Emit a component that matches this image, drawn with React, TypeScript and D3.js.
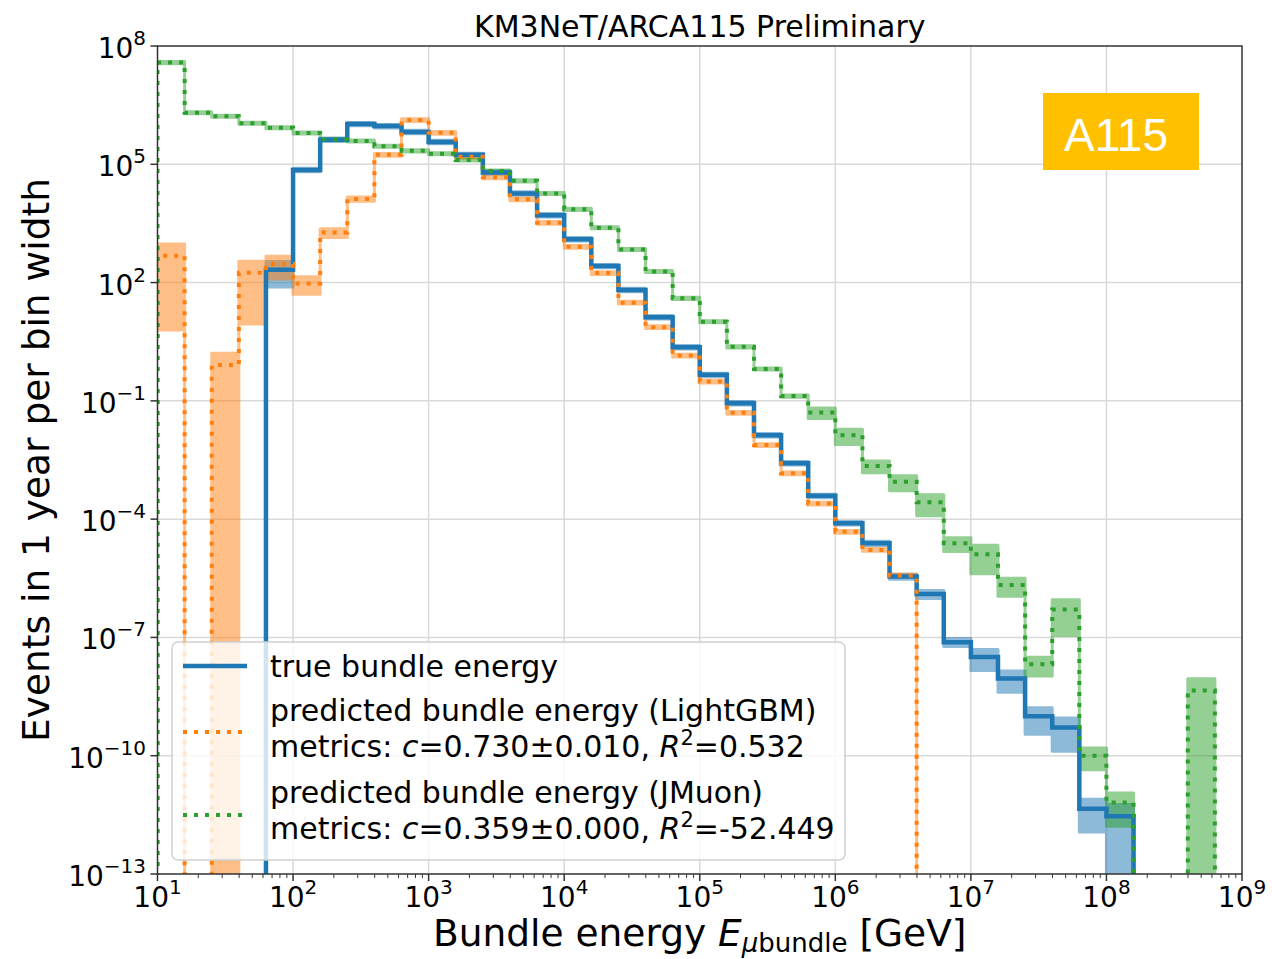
import * as d3 from 'd3'

// log-spaced energy bins, 5 per decade, 10 GeV .. 1e9 GeV
const binEdges = d3.range(41).map(i => Math.pow(10, 1 + i * 0.2))

// events per bin width, true bundle energy
const trueVals = [
  0, 0, 0, 0, 2.1e2, 7.2e4, 4.2e5, 1.05e6, 9.3e5, 6.6e5,
  3.7e5, 1.74e5, 6.2e4, 1.82e4, 5.1e3, 1.26e3, 2.63e2, 65, 13.2, 2.29,
  0.457, 8.7e-2, 1.35e-2, 2.63e-3, 3.9e-4, 7.9e-5, 2.45e-5, 3.5e-6, 1.26e-6, 7.6e-8,
  3.2e-8, 9.1e-9, 1.0e-9, 5.2e-10, 4.5e-12, 2.9e-12, 0, 0, 0, 0,
]
const trueErr = [
  0, 0, 0, 0, 0.63, 0.1, 0.1, 0.1, 0.1, 0.1,
  0.1, 0.1, 0.1, 0.1, 0.1, 0.1, 0.1, 0.1, 0.1, 0.1,
  0.1, 0.1, 0.1, 0.1, 0.1, 0.1, 0.12, 0.15, 0.23, 0.23,
  0.55, 0.55, 0.65, 0.75, 0.74, 1.0, 0, 0, 0, 0,
]

// predicted (LightGBM)
const lgbmVals = [
  4.8e2, 0, 0.81, 1.78e2, 2.95e2, 95, 1.86e3, 1.32e4, 1.74e5, 1.32e6,
  6.3e5, 1.55e5, 4.7e4, 1.29e4, 3.3e3, 8.1e2, 1.74e2, 31, 7.4, 1.41,
  0.31, 5.0e-2, 7.6e-3, 1.45e-3, 2.5e-4, 4.8e-5, 1.66e-5, 3.7e-6, 0, 0,
  0, 0, 0, 0, 0, 0, 0, 0, 0, 0,
]
const lgbmErr = [
  0.987, 0, 1.0, 0.95, 0.58, 0.47, 0.25, 0.12, 0.08, 0.08,
  0.08, 0.08, 0.08, 0.08, 0.08, 0.08, 0.08, 0.08, 0.08, 0.08,
  0.08, 0.08, 0.08, 0.08, 0.08, 0.08, 0.08, 0.08, 0, 0,
  0, 0, 0, 0, 0, 0, 0, 0, 0, 0,
]

// predicted (JMuon)
const jmuonVals = [
  3.8e7, 2.04e6, 1.66e6, 1.1e6, 8.5e5, 6.2e5, 4.27e5, 3.89e5, 2.88e5, 2.19e5,
  1.86e5, 1.29e5, 6.8e4, 3.8e4, 1.82e4, 7.2e3, 2.45e3, 6.9e2, 1.91e2, 39.8,
  10.2, 2.34, 0.646, 0.132, 5.1e-2, 1.35e-2, 2.24e-3, 8.9e-4, 2.69e-4, 2.45e-5,
  1.29e-5, 2.14e-6, 2.09e-8, 5.1e-7, 1.0e-10, 6.5e-12, 0, 0, 4.5e-9, 0,
]
const jmuonErr = [
  0.06, 0.06, 0.06, 0.06, 0.06, 0.06, 0.06, 0.06, 0.06, 0.06,
  0.06, 0.06, 0.06, 0.06, 0.06, 0.06, 0.06, 0.06, 0.06, 0.06,
  0.06, 0.06, 0.06, 0.06, 0.3, 0.42, 0.33, 0.41, 0.55, 0.38,
  0.68, 0.48, 0.5, 0.78, 0.56, 0.75, 0, 0, 1.0, 0,
]

const xTickExps = [1, 2, 3, 4, 5, 6, 7, 8, 9]
const yTickExps = [8, 5, 2, -1, -4, -7, -10, -13]

const series = [
  {name: 'true', vals: trueVals, err: trueErr, color: '#1f77b4', dash: null},
  {name: 'lgbm', vals: lgbmVals, err: lgbmErr, color: '#ff7f0e', dash: '4 7'},
  {name: 'jmuon', vals: jmuonVals, err: jmuonErr, color: '#2ca02c', dash: '4 7'},
]

const font = 'DejaVu Sans'
const minus = (n: number) => (n < 0 ? '\u2212' + Math.abs(n) : String(n))

export default function App() {
  const width = 1272
  const height = 959
  const left = 157.5, right = 1242, top = 46, bottom = 874

  const x = d3.scaleLog().domain([10, 1e9]).range([left, right])
  const y = d3.scaleLog().domain([1e-13, 1e8]).range([bottom, top])
  const off = bottom + 80 // zeros fall below the plot and get clipped
  const yv = (v: number) => (v > 0 ? y(v) : off)

  const idx = d3.range(41)
  const stairs = (vals: number[]) => {
    const pts: [number, number][] = [[x(binEdges[0]), off]]
    idx.forEach(i => {
      const v = vals[Math.min(i, vals.length - 1)]
      pts.push([x(binEdges[i]), yv(v)])
    })
    pts.push([x(binEdges[40]), off])
    return d3.line().curve(d3.curveStepAfter)(pts)
  }
  const band = (vals: number[], err: number[]) => {
    const area = d3.area<number>()
      .curve(d3.curveStepAfter)
      .x(i => x(binEdges[i]))
      .y0(i => { const k = Math.min(i, 39); return yv(vals[k] * (1 - err[k])) })
      .y1(i => { const k = Math.min(i, 39); return yv(vals[k] * (1 + err[k])) })
    return area(idx)
  }

  const minorX: number[] = []
  for (let e = 1; e < 9; e++) for (let m = 2; m <= 9; m++) minorX.push(m * Math.pow(10, e))

  const legendX = 183, legendTextX = 270

  return (
    <svg width={width} height={height} style={{position: 'absolute', left: 0, top: 0, background: 'white'}}
      fontFamily={font}>
      <defs>
        <clipPath id="plot">
          <rect x={left} y={top} width={right - left} height={bottom - top} />
        </clipPath>
      </defs>

      {/* grid */}
      <g stroke="#d9d9d9" strokeWidth={1.5}>
        {xTickExps.slice(1, -1).map(e => (
          <line key={'gx' + e} x1={x(Math.pow(10, e))} x2={x(Math.pow(10, e))} y1={top} y2={bottom} />
        ))}
        {yTickExps.slice(1, -1).map(e => (
          <line key={'gy' + e} x1={left} x2={right} y1={y(Math.pow(10, e))} y2={y(Math.pow(10, e))} />
        ))}
      </g>

      {/* bands then lines */}
      <g clipPath="url(#plot)">
        {series.map(s => (
          <path key={'b' + s.name} d={band(s.vals, s.err) || ''} fill={s.color} stroke={s.color}
            strokeWidth={3} strokeLinejoin="round" opacity={0.5} />
        ))}
        {series.map(s => (
          <path key={'l' + s.name} d={stairs(s.vals) || ''} fill="none" stroke={s.color}
            strokeWidth={s.dash ? 4 : 4.5} strokeDasharray={s.dash || undefined} />
        ))}
      </g>

      {/* frame */}
      <rect x={left} y={top} width={right - left} height={bottom - top} fill="none" stroke="#333" strokeWidth={1.5} />

      {/* ticks */}
      <g stroke="#333">
        {xTickExps.map(e => (
          <line key={'tx' + e} x1={x(Math.pow(10, e))} x2={x(Math.pow(10, e))} y1={bottom} y2={bottom + 7} strokeWidth={1.5} />
        ))}
        {minorX.map(v => (
          <line key={'mx' + v} x1={x(v)} x2={x(v)} y1={bottom} y2={bottom + 4} strokeWidth={1} />
        ))}
        {yTickExps.map(e => (
          <line key={'ty' + e} x1={left - 7} x2={left} y1={y(Math.pow(10, e))} y2={y(Math.pow(10, e))} strokeWidth={1.5} />
        ))}
      </g>

      {xTickExps.map(e => (
        <text key={'lx' + e} x={x(Math.pow(10, e))} y={907} textAnchor="middle" fontSize={28} fill="#000">
          <tspan>10</tspan>
          <tspan dy={-13} fontSize={20}>{minus(e)}</tspan>
        </text>
      ))}
      {yTickExps.map(e => (
        <text key={'ly' + e} x={146} y={y(Math.pow(10, e)) + 12} textAnchor="end" fontSize={28} fill="#000">
          <tspan>10</tspan>
          <tspan dy={-13} fontSize={20}>{minus(e)}</tspan>
        </text>
      ))}

      {/* axis labels */}
      <text x={(left + right) / 2} y={946} textAnchor="middle" fontSize={37.5}>
        <tspan>Bundle energy </tspan>
        <tspan fontStyle="italic">E</tspan>
        <tspan dy={6} fontSize={26} fontStyle="italic">μ</tspan>
        <tspan fontSize={26}>bundle</tspan>
        <tspan dy={-6}> [GeV]</tspan>
      </text>
      <text transform={`translate(49, ${(top + bottom) / 2}) rotate(-90)`} textAnchor="middle" fontSize={37.5}>
        Events in 1 year per bin width
      </text>

      {/* title */}
      <text x={(left + right) / 2} y={37} textAnchor="middle" fontSize={30}>KM3NeT/ARCA115 Preliminary</text>

      {/* A115 badge */}
      <rect x={1043} y={93} width={156} height={77} fill="#ffc000" />
      <text x={1116} y={151} textAnchor="middle" fontSize={46} fill="white" fontFamily="Liberation Sans, Arial">A115</text>

      {/* legend */}
      <g>
        <rect x={172} y={642} width={673} height={218} rx={6} fill="white" fillOpacity={0.8} stroke="#d0d0d0" strokeWidth={1.5} />
        <line x1={legendX} x2={legendX + 64} y1={666} y2={666} stroke="#1f77b4" strokeWidth={4.5} />
        <line x1={legendX} x2={legendX + 64} y1={732} y2={732} stroke="#ff7f0e" strokeWidth={4} strokeDasharray="4 7" />
        <line x1={legendX} x2={legendX + 64} y1={815} y2={815} stroke="#2ca02c" strokeWidth={4} strokeDasharray="4 7" />
        <g fontSize={30} fill="#000">
          <text x={legendTextX} y={677}>true bundle energy</text>
          <text x={legendTextX} y={721}>predicted bundle energy (LightGBM)</text>
          <text x={legendTextX} y={757}>
            <tspan>metrics: </tspan><tspan fontStyle="italic">c</tspan><tspan>=0.730±0.010, </tspan>
            <tspan fontStyle="italic">R</tspan><tspan dy={-12} fontSize={21}>2</tspan><tspan dy={12}>=0.532</tspan>
          </text>
          <text x={legendTextX} y={803}>predicted bundle energy (JMuon)</text>
          <text x={legendTextX} y={839}>
            <tspan>metrics: </tspan><tspan fontStyle="italic">c</tspan><tspan>=0.359±0.000, </tspan>
            <tspan fontStyle="italic">R</tspan><tspan dy={-12} fontSize={21}>2</tspan><tspan dy={12}>=-52.449</tspan>
          </text>
        </g>
      </g>
    </svg>
  )
}
